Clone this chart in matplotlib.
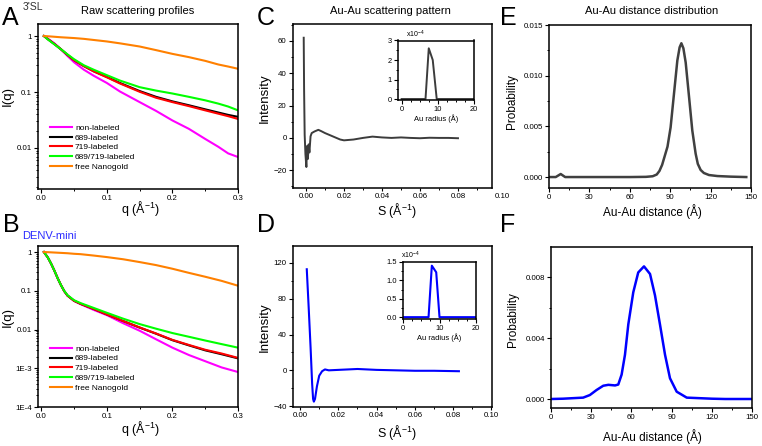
import numpy as np
import matplotlib
matplotlib.use("Agg")
import matplotlib.pyplot as plt
from matplotlib.ticker import MultipleLocator, FixedLocator, FixedFormatter, LogLocator, NullFormatter

plt.rcParams["font.family"] = ["Liberation Sans", "DejaVu Sans"]
plt.rcParams["mathtext.fontset"] = "custom"
plt.rcParams["mathtext.rm"] = "Liberation Sans"
plt.rcParams["mathtext.it"] = "Liberation Sans"

W, H = 762, 446

# ---- panel A : 3'SL raw scattering profiles ----
q_A = [0.004, 0.01, 0.02, 0.03, 0.04, 0.05, 0.065, 0.08, 0.1, 0.12, 0.15, 0.175,
       0.2, 0.225, 0.25, 0.27, 0.285, 0.3]
A_non = [1.0, 0.90, 0.74, 0.58, 0.44, 0.34, 0.25, 0.195, 0.145, 0.102, 0.066, 0.046,
         0.031, 0.022, 0.0145, 0.0105, 0.0080, 0.0069]
A_689 = [1.0, 0.88, 0.72, 0.58, 0.46, 0.37, 0.29, 0.235, 0.186, 0.145, 0.104, 0.082,
         0.068, 0.058, 0.049, 0.043, 0.039, 0.036]
A_719 = [1.0, 0.88, 0.72, 0.58, 0.46, 0.37, 0.29, 0.233, 0.183, 0.142, 0.101, 0.079,
         0.066, 0.056, 0.047, 0.041, 0.037, 0.033]
A_both = [1.0, 0.87, 0.71, 0.58, 0.47, 0.385, 0.30, 0.25, 0.20, 0.16, 0.122, 0.106,
          0.094, 0.082, 0.071, 0.062, 0.055, 0.047]
A_gold = [1.0, 0.99, 0.97, 0.95, 0.935, 0.92, 0.89, 0.85, 0.80, 0.74, 0.65, 0.56,
          0.48, 0.42, 0.36, 0.31, 0.285, 0.26]

# ---- panel B : DENV-mini raw scattering profiles ----
q_B = [0.004, 0.01, 0.015, 0.02, 0.025, 0.03, 0.035, 0.04, 0.05, 0.06, 0.08, 0.1,
       0.125, 0.15, 0.175, 0.2, 0.225, 0.25, 0.275, 0.3]
B_non = [1.0, 0.72, 0.50, 0.33, 0.21, 0.14, 0.098, 0.075, 0.055, 0.045, 0.032, 0.0235,
         0.0145, 0.0093, 0.0056, 0.0034, 0.0022, 0.00152, 0.00105, 0.0008]
B_689 = [1.0, 0.72, 0.50, 0.33, 0.21, 0.14, 0.098, 0.075, 0.055, 0.046, 0.034, 0.0245,
         0.0165, 0.0112, 0.0078, 0.0053, 0.0039, 0.0029, 0.0023, 0.0018]
B_719 = [1.0, 0.72, 0.50, 0.33, 0.21, 0.14, 0.098, 0.075, 0.055, 0.046, 0.034, 0.0245,
         0.0165, 0.0113, 0.0079, 0.0054, 0.0040, 0.0030, 0.0024, 0.00185]
B_both = [1.0, 0.72, 0.50, 0.33, 0.21, 0.14, 0.099, 0.077, 0.057, 0.048, 0.036, 0.027,
          0.019, 0.0138, 0.0105, 0.0081, 0.0065, 0.0052, 0.0042, 0.0034]
B_gold = [1.0, 0.99, 0.98, 0.97, 0.96, 0.95, 0.94, 0.93, 0.90, 0.88, 0.81, 0.74,
          0.65, 0.55, 0.46, 0.37, 0.29, 0.23, 0.18, 0.135]

labels_AB = ["non-labeled", "689-labeled", "719-labeled", "689/719-labeled", "free Nanogold"]
colors_AB = ["#ff00ff", "#000000", "#ff0000", "#00ff00", "#ff8000"]

# ---- panel C : Au-Au scattering pattern (3'SL) ----
S_C = [-0.0012, -0.001, -0.0007, -0.0003, 0.0002, 0.0006, 0.001, 0.0014, 0.0018,
       0.0024, 0.003, 0.0045, 0.0065, 0.008, 0.010, 0.012, 0.015, 0.018, 0.020,
       0.025, 0.03, 0.035, 0.04, 0.045, 0.05, 0.055, 0.06, 0.065, 0.07, 0.075, 0.08]
I_C = [62, 30, 2, -10, -18, -5, -13, -4, -9, 1, 3, 4, 5, 4.2, 3, 2, 0.5, -1, -1.5,
       -1, 0, 0.8, 0.3, 0, 0.3, 0, -0.2, 0.1, 0, 0, -0.2]
r_C = [0, 2, 6.6, 7.5, 8.6, 9.7, 12, 20]
p_C = [0, 0, 0, 2.6, 2.0, 0, 0, 0]

# ---- panel D : Au-Au scattering pattern (DENV-mini) ----
S_D = [0.0035, 0.0045, 0.0055, 0.0063, 0.0068, 0.0072, 0.0078, 0.0088, 0.010, 0.0115,
       0.013, 0.015, 0.02, 0.025, 0.03, 0.04, 0.05, 0.06, 0.07, 0.083]
I_D = [113, 70, 25, -15, -32, -35, -32, -18, -6, -1, 1, 0, 0.5, 1, 1.5, 0.5, 0, -0.5,
       -0.5, -1]
r_D = [0, 2, 7.0, 7.9, 9.1, 10, 12, 20]
p_D = [0, 0, 0, 1.40, 1.22, 0, 0, 0]

# ---- panel E / F : Au-Au distance distributions ----
d_E = [0, 5, 8.7, 12, 20, 40, 60, 72, 77, 80, 82, 84, 86, 88, 90.3, 92.8, 95.3, 97,
       98.3, 99.8, 101.5, 104, 106.4, 108.9, 110.5, 112.6, 115, 118.8, 125, 135, 146.5]
p_E = [0, 0, 0.0003, 0, 0, 0, 0, 0.00002, 0.00008, 0.00025, 0.0006, 0.0012, 0.0021,
       0.003, 0.0049, 0.0082, 0.0115, 0.0128, 0.0132, 0.0127, 0.0113, 0.0079, 0.0046,
       0.0023, 0.0013, 0.0007, 0.0004, 0.0002, 0.0001, 0.00004, 0]

d_F = [0, 9, 24, 29, 34, 39, 42.8, 47.8, 50.2, 52.7, 55.2, 57.7, 61.4, 65.1, 69.4,
       73.9, 77.6, 81.3, 85.1, 88.8, 93.8, 101.3, 120, 130, 150]
p_F = [0, 0.00002, 0.00009, 0.00026, 0.00059, 0.00087, 0.00093, 0.00089, 0.00095,
       0.0016, 0.0029, 0.0049, 0.0070, 0.0083, 0.0087, 0.0082, 0.0068, 0.0049,
       0.0029, 0.00136, 0.00048, 0.00009, 0.00002, 0.0, 0.0]


def box(l, t, r, b):
    return [l / W, 1 - b / H, (r - l) / W, (b - t) / H]


def ftext(x, y, s, **kw):
    fig.text(x / W, 1 - y / H, s, **kw)


def style(ax, size=5.7):
    for sp in ax.spines.values():
        sp.set_linewidth(1.1)
    ax.tick_params(which="major", direction="out", length=3, width=0.8, labelsize=size, pad=1.5)
    ax.tick_params(which="minor", direction="out", length=1.7, width=0.7)


fig = plt.figure(figsize=(W / 100, H / 100), dpi=100)

# ----- A and B -----
for pos, q, ys, ylim, yt, ytl, leg_top in [
        ((38, 24, 238, 189), q_A, [A_non, A_689, A_719, A_both, A_gold],
         (0.00185, 1.64), [1, 0.1, 0.01], ["1", "0.1", "0.01"], 124),
        ((38, 246, 238, 407), q_B, [B_non, B_689, B_719, B_both, B_gold],
         (1e-4, 1.43), [1, 0.1, 0.01, 1e-3, 1e-4], ["1", "0.1", "0.01", "1E-3", "1E-4"], 345)]:
    ax = fig.add_axes(box(*pos))
    for y, c, lab in zip(ys, colors_AB, labels_AB):
        ax.plot(q, y, color=c, lw=1.5, label=lab)
    ax.set_yscale("log")
    ax.set_xlim(-0.005, 0.3)
    ax.set_ylim(*ylim)
    ax.yaxis.set_major_locator(FixedLocator(yt))
    ax.yaxis.set_major_formatter(FixedFormatter(ytl))
    ax.yaxis.set_minor_locator(LogLocator(base=10, subs=np.arange(2, 10), numticks=20))
    ax.yaxis.set_minor_formatter(NullFormatter())
    ax.xaxis.set_major_locator(MultipleLocator(0.1))
    ax.xaxis.set_minor_locator(MultipleLocator(0.05))
    ax.xaxis.set_major_formatter(plt.FuncFormatter(lambda v, p: f"{v:.1f}"))
    style(ax)
    l, t, r, b = pos
    ax.legend(loc="upper left", bbox_to_anchor=((50 - l) / (r - l), (b - leg_top) / (b - t)),
              frameon=False, fontsize=6, handlelength=2.6, handletextpad=0.4,
              labelspacing=0.22, borderpad=0, borderaxespad=0)

# ----- C -----
axC = fig.add_axes(box(293, 24, 492, 188))
axC.plot(S_C, I_C, color="#3c3c3c", lw=1.4)
axC.set_xlim(-0.00684, 0.0979)
axC.set_ylim(-31, 70.5)
axC.xaxis.set_major_locator(MultipleLocator(0.02))
axC.xaxis.set_minor_locator(MultipleLocator(0.01))
axC.xaxis.set_major_formatter(plt.FuncFormatter(lambda v, p: f"{v:.2f}"))
axC.yaxis.set_major_locator(MultipleLocator(20))
axC.yaxis.set_minor_locator(MultipleLocator(10))
style(axC)
axC.tick_params(axis="x", which="major", length=2.5, pad=0.8)
axC.text(0.1032, -0.03, "0.10", transform=axC.get_xaxis_transform(), ha="center",
         va="top", fontsize=5.7, clip_on=False)

insC = fig.add_axes(box(398, 40.5, 474, 100))
insC.plot(r_C, p_C, color="#3c3c3c", lw=1.4)
insC.set_xlim(-1, 20)
insC.set_ylim(-0.05, 3.0)
insC.xaxis.set_major_locator(MultipleLocator(10))
insC.xaxis.set_minor_locator(MultipleLocator(2.5))
insC.yaxis.set_major_locator(MultipleLocator(1))
insC.yaxis.set_minor_locator(MultipleLocator(0.5))
style(insC, 5.4)
insC.set_xlabel("Au radius (Å)", fontsize=5.4, labelpad=0.5)
ftext(406, 34, "x10$^{-4}$", fontsize=5, va="center")

# ----- D -----
axD = fig.add_axes(box(293, 246, 492, 407))
axD.plot(S_D, I_D, color="#0000ff", lw=1.5)
axD.set_xlim(-0.0037, 0.1003)
axD.set_ylim(-41, 139)
axD.xaxis.set_major_locator(MultipleLocator(0.02))
axD.xaxis.set_minor_locator(MultipleLocator(0.01))
axD.xaxis.set_major_formatter(plt.FuncFormatter(lambda v, p: f"{v:.2f}"))
axD.yaxis.set_major_locator(MultipleLocator(40))
axD.yaxis.set_minor_locator(MultipleLocator(20))
style(axD)
axD.tick_params(axis="x", which="major", length=2.5, pad=0.8)

insD = fig.add_axes(box(403, 262, 476, 319))
insD.plot(r_D, p_D, color="#0000ff", lw=1.5)
insD.set_xlim(0, 20)
insD.set_ylim(-0.05, 1.5)
insD.xaxis.set_major_locator(MultipleLocator(10))
insD.xaxis.set_minor_locator(MultipleLocator(2.5))
insD.yaxis.set_major_locator(MultipleLocator(0.5))
insD.yaxis.set_minor_locator(MultipleLocator(0.25))
insD.yaxis.set_major_formatter(plt.FuncFormatter(lambda v, p: f"{v:.1f}"))
style(insD, 5.4)
insD.set_xlabel("Au radius (Å)", fontsize=5.4, labelpad=0.5)
ftext(401, 255, "x10$^{-4}$", fontsize=5, va="center")

# ----- E -----
axE = fig.add_axes(box(549, 25, 751, 188))
axE.plot(d_E, p_E, color="#404040", lw=1.8)
axE.set_xlim(0, 150)
axE.set_ylim(-0.00108, 0.015)
axE.xaxis.set_major_locator(MultipleLocator(30))
axE.xaxis.set_minor_locator(MultipleLocator(15))
axE.yaxis.set_major_locator(MultipleLocator(0.005))
axE.yaxis.set_minor_locator(MultipleLocator(0.0025))
axE.yaxis.set_major_formatter(plt.FuncFormatter(lambda v, p: f"{v:.3f}"))
style(axE)

# ----- F -----
axF = fig.add_axes(box(551, 247, 752, 408))
axF.plot(d_F, p_F, color="#0000ff", lw=1.8)
axF.set_xlim(0, 150)
axF.set_ylim(-0.00059, 0.00997)
axF.xaxis.set_major_locator(MultipleLocator(30))
axF.xaxis.set_minor_locator(MultipleLocator(15))
axF.yaxis.set_major_locator(MultipleLocator(0.004))
axF.yaxis.set_minor_locator(MultipleLocator(0.002))
axF.yaxis.set_major_formatter(plt.FuncFormatter(lambda v, p: f"{v:.3f}"))
style(axF)

# ----- texts -----
for letter, x, y in [("A", 2, 25), ("B", 3, 232), ("C", 257, 25), ("D", 257, 232),
                     ("E", 500, 25), ("F", 500, 232)]:
    ftext(x, y, letter, fontsize=18, va="baseline", ha="left")

ftext(23, 9.5, "3'SL", fontsize=7.5, color="#333333", va="baseline")
ftext(22, 239, "DENV-mini", fontsize=8, color="#2b2bff", va="baseline")

ftext(138, 10.5, "Raw scattering profiles", fontsize=8, ha="center", va="center")
ftext(390, 10.5, "Au-Au scattering pattern", fontsize=8, ha="center", va="center")
ftext(652, 10.5, "Au-Au distance distribution", fontsize=8, ha="center", va="center")

ftext(140, 209, "q (Å$^{-1}$)", fontsize=9, ha="center", va="center")
ftext(140, 428, "q (Å$^{-1}$)", fontsize=9, ha="center", va="center")
ftext(397, 210, "S (Å$^{-1}$)", fontsize=9, ha="center", va="center")
ftext(397, 433, "S (Å$^{-1}$)", fontsize=9, ha="center", va="center")
ftext(652, 212, "Au-Au distance (Å)", fontsize=8.5, ha="center", va="center")
ftext(652, 437, "Au-Au distance (Å)", fontsize=8.5, ha="center", va="center")

ftext(8, 96, "I(q)", fontsize=9.5, rotation=90, ha="center", va="center")
ftext(8, 317, "I(q)", fontsize=9.5, rotation=90, ha="center", va="center")
ftext(265, 98, "Intensity", fontsize=9.5, rotation=90, ha="center", va="center")
ftext(265, 327, "Intensity", fontsize=9.5, rotation=90, ha="center", va="center")
ftext(512, 102, "Probability", fontsize=8.5, rotation=90, ha="center", va="center")
ftext(513, 320, "Probability", fontsize=8.5, rotation=90, ha="center", va="center")

fig.savefig("out.png", dpi=100)
